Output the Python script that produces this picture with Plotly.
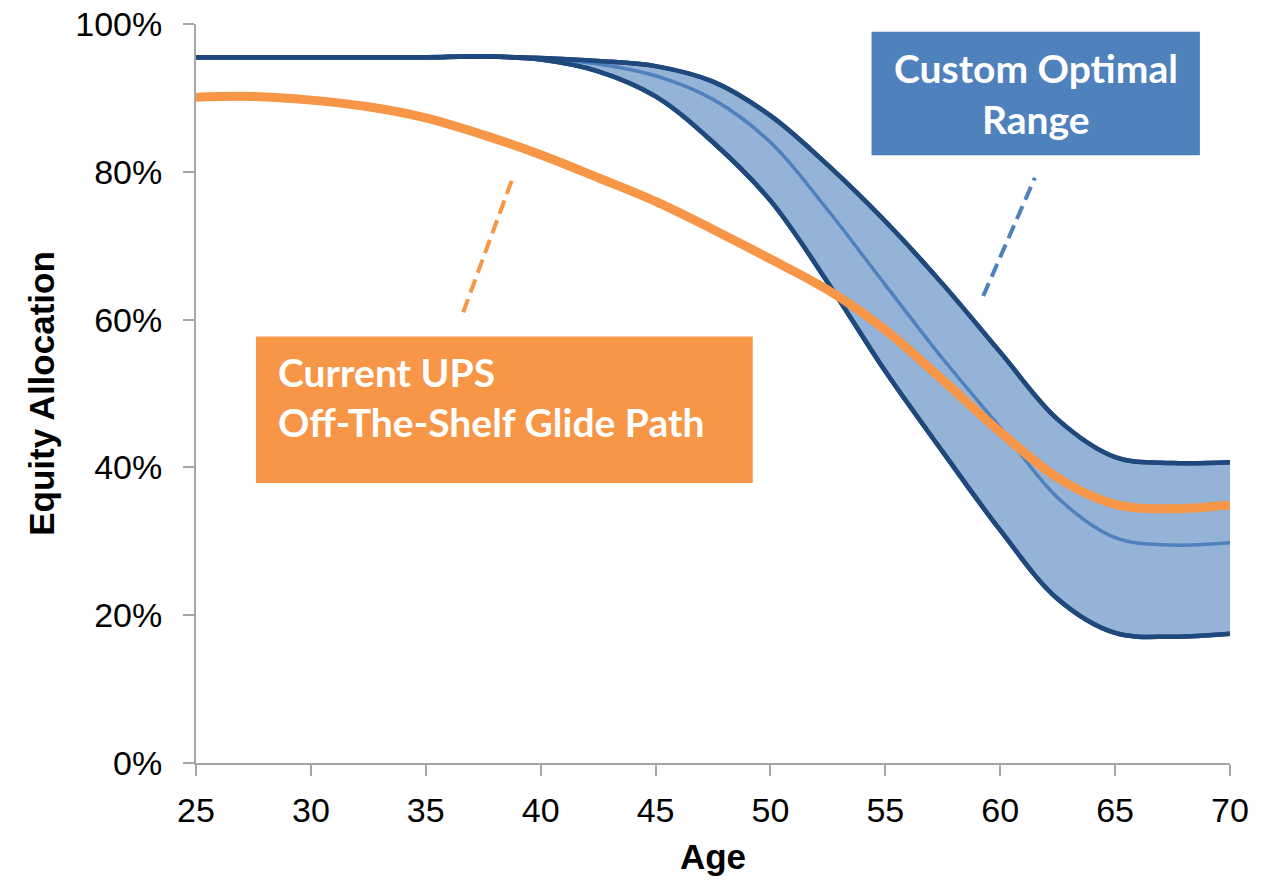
import plotly.graph_objects as go

# Age (years) on the horizontal axis
ages = [25, 27.5, 30, 32.5, 35, 37.5, 40, 42.5, 45, 47.5, 50, 52.5, 55, 57.5,
        60, 62.5, 65, 67.5, 70]

# Custom optimal range: upper bound, midpoint and lower bound (equity share)
upper = [0.955, 0.955, 0.955, 0.955, 0.955, 0.956, 0.954, 0.950, 0.943, 0.922,
         0.876, 0.809, 0.733, 0.648, 0.556, 0.465, 0.414, 0.406, 0.407]
middle = [0.955, 0.955, 0.955, 0.955, 0.955, 0.956, 0.953, 0.946, 0.930, 0.898,
          0.840, 0.748, 0.647, 0.547, 0.454, 0.359, 0.305, 0.295, 0.298]
lower = [0.955, 0.955, 0.955, 0.955, 0.955, 0.956, 0.952, 0.936, 0.902, 0.840,
         0.761, 0.650, 0.530, 0.421, 0.315, 0.222, 0.176, 0.171, 0.175]

# Current off-the-shelf glide path
glide = [0.901, 0.902, 0.897, 0.888, 0.873, 0.850, 0.823, 0.792, 0.760, 0.722,
         0.682, 0.640, 0.586, 0.518, 0.448, 0.386, 0.350, 0.344, 0.349]

y_ticks = [0, 0.2, 0.4, 0.6, 0.8, 1.0]
y_tick_text = ["0%", "20%", "40%", "60%", "80%", "100%"]
x_ticks = [25, 30, 35, 40, 45, 50, 55, 60, 65, 70]

NAVY = "#1f497d"
MID_BLUE = "#4f81bd"
BAND = "#95b3d7"
ORANGE = "#f79646"
AXIS_GREY = "#a6a6a6"
SMOOTH = 1.0


def curve(y, color, width, **kw):
    return go.Scatter(x=ages, y=y, mode="lines",
                      line=dict(color=color, width=width, shape="spline",
                                smoothing=SMOOTH),
                      hoverinfo="skip", showlegend=False, **kw)


fig = go.Figure()

# Shaded band between lower and upper bounds
fig.add_trace(curve(lower, NAVY, 4.5))
fig.add_trace(curve(upper, NAVY, 4.5, fill="tonexty", fillcolor=BAND))
fig.add_trace(curve(middle, MID_BLUE, 3.5))
# Redraw the bounds above the midpoint
fig.add_trace(curve(upper, NAVY, 4.5))
fig.add_trace(curve(lower, NAVY, 4.5))
fig.add_trace(curve(glide, ORANGE, 9))

box_font = "Lato"
box_size = 39

shapes = [
    # Label boxes
    dict(type="rect", xref="x", yref="y", x0=27.61, x1=49.23, y0=0.379, y1=0.577,
         fillcolor=ORANGE, line=dict(width=0), layer="above"),
    dict(type="rect", xref="x", yref="y", x0=54.40, x1=68.69, y0=0.8225, y1=0.9896,
         fillcolor=MID_BLUE, line=dict(width=0), layer="above"),
    # Dashed leader lines
    dict(type="line", xref="x", yref="y", x0=36.63, y0=0.610, x1=38.74, y1=0.788,
         line=dict(color=ORANGE, width=4, dash="14px,7px")),
    dict(type="line", xref="x", yref="y", x0=59.26, y0=0.632, x1=61.51, y1=0.792,
         line=dict(color=MID_BLUE, width=4, dash="14px,7px")),
]

annotations = [
    dict(x=28.48, y=0.529, xref="x", yref="y", xanchor="left", yanchor="middle",
         text="<b>Current UPS</b>", showarrow=False,
         font=dict(family=box_font, size=box_size, color="white")),
    dict(x=28.48, y=0.461, xref="x", yref="y", xanchor="left", yanchor="middle",
         text="<b>Off-The-Shelf Glide Path</b>", showarrow=False,
         font=dict(family=box_font, size=box_size, color="white")),
    dict(x=61.55, y=0.941, xref="x", yref="y", xanchor="center", yanchor="middle",
         text="<b>Custom Optimal</b>", showarrow=False,
         font=dict(family=box_font, size=box_size, color="white")),
    dict(x=61.55, y=0.871, xref="x", yref="y", xanchor="center", yanchor="middle",
         text="<b>Range</b>", showarrow=False,
         font=dict(family=box_font, size=box_size, color="white")),
]

fig.update_layout(
    width=1275, height=880,
    margin=dict(l=196, r=45, t=24, b=117),
    paper_bgcolor="white", plot_bgcolor="white",
    font=dict(family="Liberation Sans, Arial, sans-serif", color="black"),
    shapes=shapes, annotations=annotations,
    showlegend=False,
)
fig.update_xaxes(
    range=[25, 70], tickvals=x_ticks, ticktext=[str(t) for t in x_ticks],
    showgrid=False, zeroline=False, showline=True, linecolor=AXIS_GREY, linewidth=2,
    ticks="outside", ticklen=11, tickwidth=2, tickcolor=AXIS_GREY,
    tickfont=dict(size=34, color="black"), ticklabelstandoff=5, automargin=False,
    title=dict(text="<b>Age</b>", font=dict(size=35, color="black"), standoff=17),
)
fig.update_yaxes(
    range=[0, 1], tickvals=y_ticks, ticktext=y_tick_text,
    showgrid=False, zeroline=False, showline=True, linecolor=AXIS_GREY, linewidth=2,
    ticks="outside", ticklen=11, tickwidth=2, tickcolor=AXIS_GREY,
    tickfont=dict(size=34, color="black"), ticklabelstandoff=14, automargin=False,
    title=dict(text="<b>Equity Allocation</b>", font=dict(size=35, color="black"),
               standoff=10),
)

fig.write_html("out.html")
